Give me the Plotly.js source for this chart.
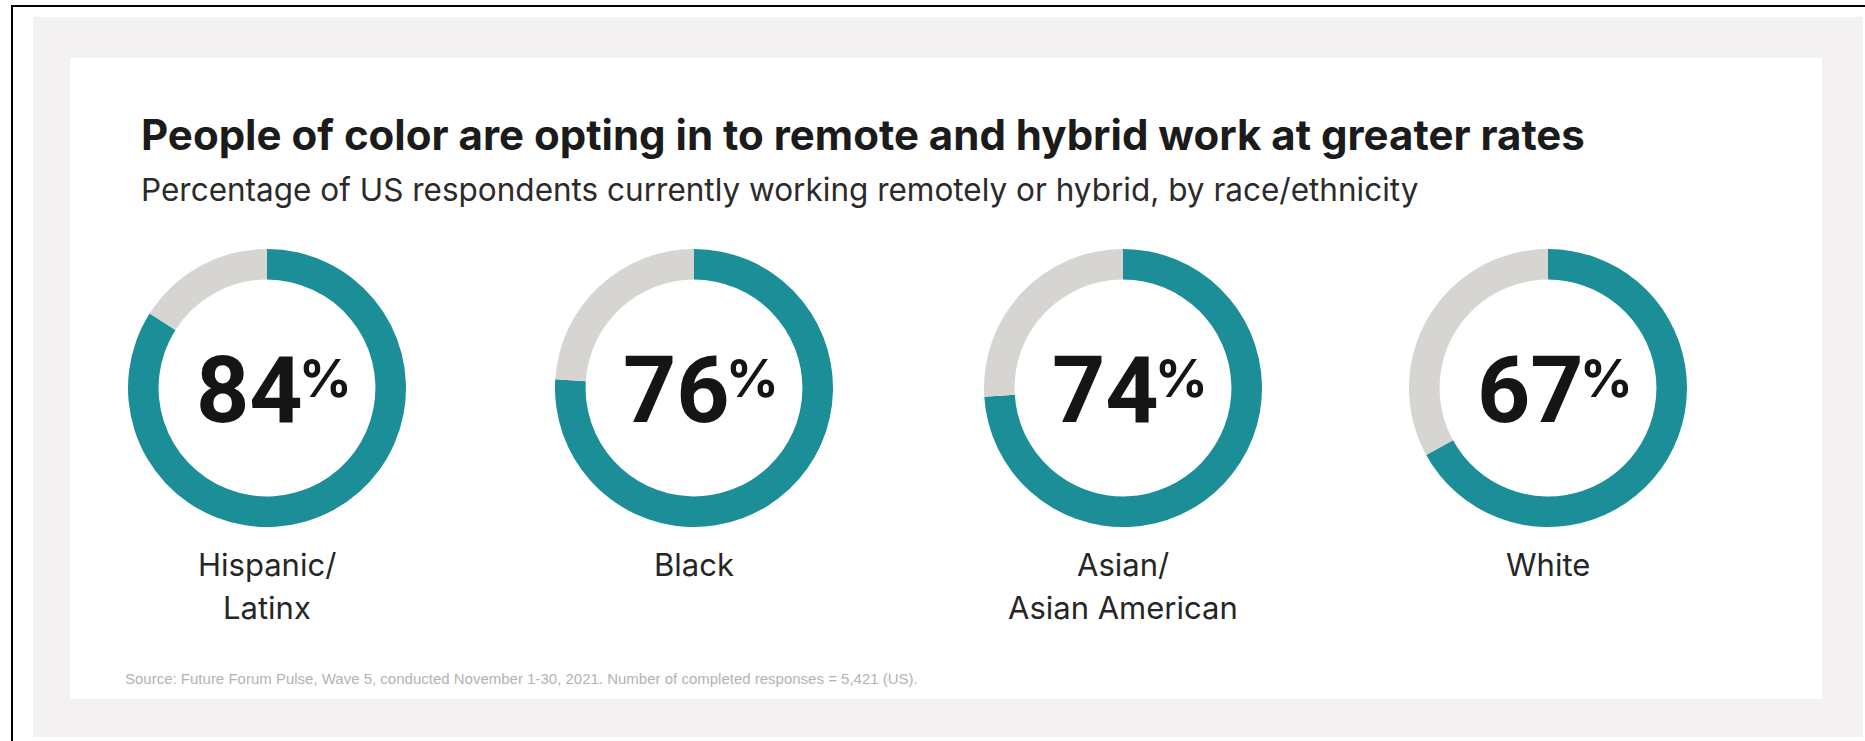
<!DOCTYPE html>
<html>
<head>
<meta charset="utf-8">
<script src="https://cdn.plot.ly/plotly-3.0.1.min.js"></script>
<style>html,body{margin:0;padding:0;background:#fff;}#chart{width:1865px;height:741px;}</style>
</head>
<body>
<div id="chart"></div>
<script>
// ---- data ----
const groups = ["Hispanic/<br>Latinx", "Black", "Asian/<br>Asian American", "White"];
const remoteShare = [84, 76, 74, 67];
const titleText = "People of color are opting in to remote and hybrid work at greater rates";
const subtitleText = "Percentage of US respondents currently working remotely or hybrid, by race/ethnicity";
const sourceText = "Source: Future Forum Pulse, Wave 5, conducted November 1-30, 2021. Number of completed responses = 5,421 (US).";

// ---- styling / layout ----
const W = 1865, H = 741;
const teal = "#1b8e97", grey = "#d7d5d1";
const centersX = [267, 694, 1123, 1548];
const centerY = 388, R = 139;
const px = v => v / W;
const py = v => 1 - v / H;

const traces = remoteShare.map((v, i) => ({
  type: "pie",
  values: [v, 100 - v],
  labels: ["Remote or hybrid", "Other"],
  marker: {colors: [teal, grey], line: {width: 0}},
  hole: 0.78,
  sort: false,
  direction: "clockwise",
  rotation: 0,
  textinfo: "none",
  hoverinfo: "none",
  showlegend: false,
  domain: {x: [px(centersX[i] - R), px(centersX[i] + R)], y: [py(centerY + R), py(centerY - R)]}
}));

const fontMain = "Inter, 'Open Sans', sans-serif";
const annotations = [];
annotations.push({xref: "paper", yref: "paper", x: px(139), y: py(134), xanchor: "left", yanchor: "middle",
  text: titleText, showarrow: false, font: {family: fontMain, size: 42, color: "#1b1b1b", weight: 700}});
annotations.push({xref: "paper", yref: "paper", x: px(139), y: py(190), xanchor: "left", yanchor: "middle",
  text: subtitleText, showarrow: false, font: {family: fontMain, size: 31.5, color: "#2b2b2b"}});
annotations.push({xref: "paper", yref: "paper", x: px(123), y: py(678), xanchor: "left", yanchor: "middle",
  text: sourceText, showarrow: false, font: {family: "'Liberation Sans', sans-serif", size: 15, color: "#b3b3b3"}});

remoteShare.forEach((v, i) => {
  const cx = centersX[i];
  annotations.push({xref: "paper", yref: "paper", x: px(cx + 38), y: py(390), xanchor: "right", yanchor: "middle",
    text: String(v), showarrow: false, font: {family: "Roboto, sans-serif", size: 93, color: "#151515", weight: 700}});
  annotations.push({xref: "paper", yref: "paper", x: px(cx + 30), y: py(378), xanchor: "left", yanchor: "middle",
    text: "%", showarrow: false, font: {family: fontMain, size: 52, color: "#151515", weight: 700}});
  groups[i].split("<br>").forEach((line, j) => {
    annotations.push({xref: "paper", yref: "paper", x: px(cx), y: py(564 + 43 * j), xanchor: "center", yanchor: "middle",
      text: line, showarrow: false, font: {family: fontMain, size: 31, color: "#262626"}});
  });
});

const shapes = [
  {type: "rect", xref: "paper", yref: "paper", x0: px(33), x1: px(1863), y0: py(737), y1: py(17), fillcolor: "#f3f1f1", line: {width: 0}, layer: "below"},
  {type: "rect", xref: "paper", yref: "paper", x0: px(70), x1: px(1822), y0: py(699), y1: py(58), fillcolor: "#ffffff", line: {width: 0}, layer: "below"},
  {type: "line", xref: "paper", yref: "paper", x0: px(12), x1: px(12), y0: py(5), y1: 0, line: {color: "#000", width: 2}},
  {type: "line", xref: "paper", yref: "paper", x0: px(11), x1: 1, y0: py(6), y1: py(6), line: {color: "#000", width: 2}}
];

Plotly.newPlot("chart", traces, {
  width: W, height: H,
  margin: {l: 0, r: 0, t: 0, b: 0, pad: 0},
  paper_bgcolor: "#ffffff",
  plot_bgcolor: "#ffffff",
  showlegend: false,
  annotations: annotations,
  shapes: shapes
}, {displayModeBar: false, staticPlot: true});
</script>
</body>
</html>
